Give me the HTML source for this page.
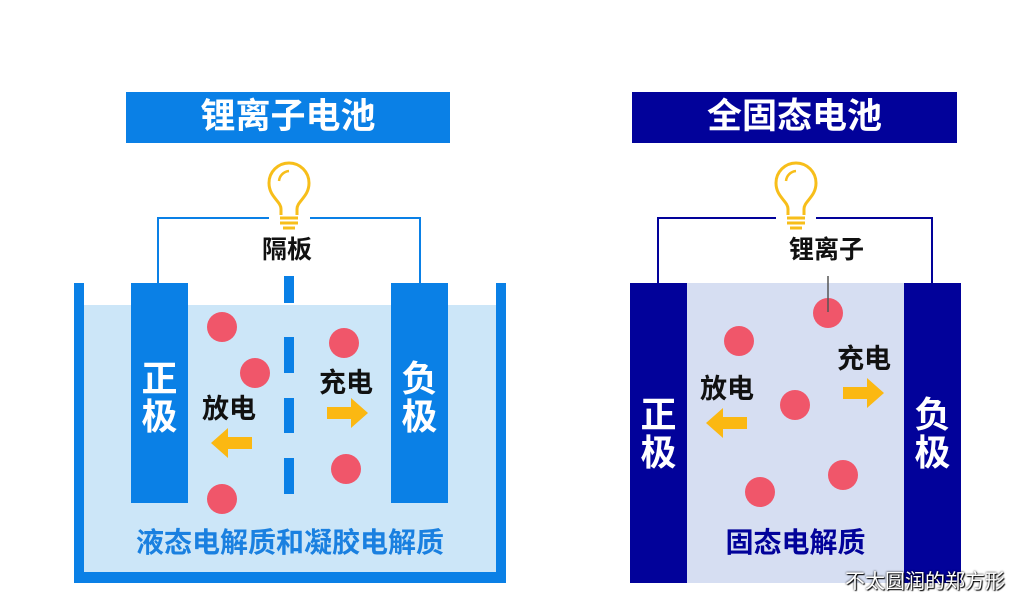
<!DOCTYPE html>
<html><head><meta charset="utf-8"><style>
body{margin:0;width:1032px;height:610px;background:#fff;overflow:hidden;position:relative;font-family:"Liberation Sans","Noto Sans CJK SC",sans-serif;}
.t{position:absolute;font-weight:bold;white-space:nowrap;line-height:1;}
</style></head><body>
<svg width="1032" height="610" style="position:absolute;left:0;top:0">
<defs>
<g id="bulb">
<path d="M-8,30 L-8,24 C-8,16 -20,12 -20,-2 A20,20 0 1 1 20,-2 C20,12 8,16 8,24 L8,30" fill="none" stroke="#f7be1a" stroke-width="3"/>
<path d="M-10,-4 A11,11 0 0 1 0,-14" fill="none" stroke="#f7be1a" stroke-width="2.5"/>
<line x1="-9" y1="33" x2="9" y2="33" stroke="#f7be1a" stroke-width="3"/>
<line x1="-9" y1="38" x2="9" y2="38" stroke="#f7be1a" stroke-width="3"/>
<line x1="-6" y1="43" x2="6" y2="43" stroke="#f7be1a" stroke-width="3"/>
</g>
<g id="ra"><path d="M0,-6 H24 V-15 L41,0 L24,15 V6 H0 Z" fill="#fbb812"/></g>
</defs>
<rect x="126" y="92" width="324" height="51" fill="#0a80e6"/>
<rect x="84" y="305" width="412" height="267" fill="#cce6f8"/>
<rect x="74" y="283" width="10" height="300" fill="#0a80e6"/>
<rect x="496" y="283" width="10" height="300" fill="#0a80e6"/>
<rect x="74" y="572" width="432" height="11" fill="#0a80e6"/>
<rect x="131" y="283" width="57" height="220" fill="#0a80e6"/>
<rect x="391" y="283" width="57" height="220" fill="#0a80e6"/>
<g fill="#0a80e6"><rect x="284" y="276" width="10" height="27"/><rect x="284" y="337" width="10" height="36"/><rect x="284" y="398" width="10" height="35"/><rect x="284" y="458" width="10" height="36"/></g>
<polyline points="158,283 158,218 269,218" fill="none" stroke="#0a80e6" stroke-width="2"/>
<polyline points="310,218 420,218 420,283" fill="none" stroke="#0a80e6" stroke-width="2"/>
<use href="#bulb" x="289" y="185"/>
<g fill="#f0566a"><circle cx="222" cy="327" r="15"/><circle cx="255" cy="373" r="15"/><circle cx="222" cy="499" r="15"/><circle cx="344" cy="343" r="15"/><circle cx="346" cy="469" r="15"/></g>
<use href="#ra" transform="translate(252,443) scale(-1,1)"/>
<use href="#ra" x="327" y="413"/>
<rect x="632" y="92" width="325" height="51" fill="#02029a"/>
<rect x="687" y="283" width="217" height="300" fill="#d6def2"/>
<rect x="630" y="283" width="57" height="300" fill="#02029a"/>
<rect x="904" y="283" width="57" height="300" fill="#02029a"/>
<polyline points="658,283 658,218 776,218" fill="none" stroke="#02029a" stroke-width="2"/>
<polyline points="816,218 932,218 932,283" fill="none" stroke="#02029a" stroke-width="2"/>
<use href="#bulb" x="796" y="185"/>
<g fill="#f0566a"><circle cx="828" cy="313" r="15"/><circle cx="739" cy="341" r="15"/><circle cx="795" cy="405" r="15"/><circle cx="760" cy="492" r="15"/><circle cx="843" cy="475" r="15"/></g>
<line x1="828" y1="276" x2="828" y2="312" stroke="#555" stroke-width="1.5"/>
<use href="#ra" transform="translate(747,423) scale(-1,1)"/>
<use href="#ra" x="843" y="393"/>
</svg>
<div class="t" style="left:126px;top:99px;width:324px;text-align:center;color:#fff;font-size:35px">锂离子电池</div>
<div class="t" style="left:632px;top:99px;width:325px;text-align:center;color:#fff;font-size:35px">全固态电池</div>
<div class="t" style="left:262px;top:238px;color:#111;font-size:25px">隔板</div>
<div class="t" style="left:131px;top:360px;width:57px;text-align:center;color:#fff;font-size:36px;line-height:38px">正<br>极</div>
<div class="t" style="left:391px;top:360px;width:57px;text-align:center;color:#fff;font-size:36px;line-height:38px">负<br>极</div>
<div class="t" style="left:202px;top:396px;color:#111;font-size:27px">放电</div>
<div class="t" style="left:319px;top:370px;color:#111;font-size:27px">充电</div>
<div class="t" style="left:84px;top:529px;width:412px;text-align:center;color:#1a80e0;font-size:28px">液态电解质和凝胶电解质</div>
<div class="t" style="left:789px;top:238px;color:#111;font-size:25px">锂离子</div>
<div class="t" style="left:630px;top:396px;width:57px;text-align:center;color:#fff;font-size:36px;line-height:38px">正<br>极</div>
<div class="t" style="left:904px;top:396px;width:57px;text-align:center;color:#fff;font-size:36px;line-height:38px">负<br>极</div>
<div class="t" style="left:700px;top:376px;color:#111;font-size:27px">放电</div>
<div class="t" style="left:837px;top:346px;color:#111;font-size:27px">充电</div>
<div class="t" style="left:687px;top:529px;width:217px;text-align:center;color:#02029a;font-size:28px">固态电解质</div>
<div class="t" style="left:845px;top:572px;color:#fff;font-size:20px;font-weight:normal;text-shadow:0 0 2px #000,1px 1px 1px #000">不太圆润的郑方形</div>
</body></html>
